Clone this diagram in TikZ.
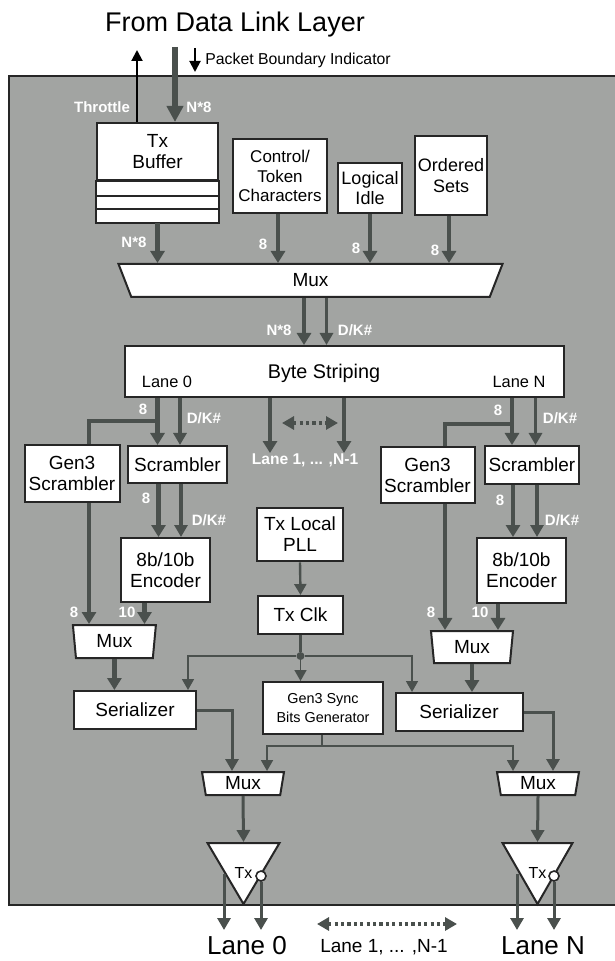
\documentclass[tikz,border=0pt]{standalone}
\usepackage{fontspec}
\setmainfont{Liberation Sans}
\usepackage{xcolor}
\usepackage{tikz}
\usetikzlibrary{arrows.meta,shapes.geometric}

\definecolor{panelgray}{HTML}{A2A4A2}
\definecolor{wirec}{HTML}{4A504D}
\definecolor{edgec}{HTML}{262626}

\tikzset{
  blk/.style={draw=edgec, line width=1pt, fill=white, inner sep=1pt, align=center,
    font=\fontsize{9.5}{10.5}\selectfont},
  muxbox/.style={trapezium, shape border rotate=180, trapezium stretches body,
    draw=edgec, line width=1pt, fill=white, inner sep=0pt,
    font=\fontsize{9.5}{10.5}\selectfont},
  txbox/.style={isosceles triangle, shape border rotate=-90, isosceles triangle stretches,
    draw=edgec, line width=1pt, fill=white, inner sep=0pt, anchor=north,
    font=\fontsize{8}{9}\selectfont},
  bubble/.style={circle, draw=edgec, fill=white, line width=0.8pt, minimum size=5pt, inner sep=0pt},
  bus/.style={draw=wirec, line width=2.2pt, -{Triangle[width=7pt,length=6pt]}},
  dk/.style={draw=wirec, line width=1.6pt, -{Triangle[width=6.5pt,length=6pt]}},
  midw/.style={draw=wirec, line width=1.5pt, -{Triangle[width=6.5pt,length=6pt]}},
  clkw/.style={draw=wirec, line width=0.8pt, -{Triangle[width=6pt,length=5.5pt]}},
  blkarr/.style={draw=black, line width=1pt, -{Triangle[width=5.5pt,length=5.5pt]}},
  dotarr/.style={draw=wirec, line width=1.6pt, dash pattern=on 1.6pt off 1.6pt,
    {Triangle[width=6.5pt,length=6pt]}-{Triangle[width=6.5pt,length=6pt]}},
  wlbl/.style={text=white, inner sep=0pt, font=\fontsize{7.5}{8}\selectfont\bfseries},
  dlbl/.style={inner sep=0pt, font=\fontsize{8.2}{9}\selectfont},
}

\begin{document}
\begin{tikzpicture}[x=0.5pt,y=-0.5pt]
    \useasboundingbox (0,0) rectangle (614,961);
    % PHY transmit panel
    \filldraw[fill=panelgray, draw=edgec, line width=1pt] (9,76) rectangle (640,905);
    % Header above the panel
    \node[font=\fontsize{13.5}{15}\selectfont] (title) at (235,25) {From Data Link Layer};
    \node[anchor=west, inner sep=0pt, font=\fontsize{7.9}{9}\selectfont] (pbi) at (205,60) {Packet Boundary Indicator};
    \coordinate (thrend) at (137,50);
    \coordinate (dllin) at (175,47);
    \coordinate (pbitop) at (195,48);
    \coordinate (pbibot) at (195,72);
    % Transmit buffer with its stripes
    \node[blk, minimum width=60.5pt, minimum height=28.5pt] (buf) at (157.5,151.5) {Tx\\Buffer};
    \draw[draw=edgec, line width=1pt, fill=white] (buf.south west) rectangle ([yshift=-21pt]buf.south east);
    \draw[edgec, line width=1pt] ([yshift=-7.5pt]buf.south west) -- ([yshift=-7.5pt]buf.south east);
    \draw[edgec, line width=1pt] ([yshift=-14pt]buf.south west) -- ([yshift=-14pt]buf.south east);
    \coordinate (bufout) at ([yshift=-21pt]buf.south);
    % Symbol sources
    \node[blk, minimum width=47pt, minimum height=37pt, font=\fontsize{8.5}{9.8}\selectfont] (ctl) at (280,176) {Control/\\Token\\Characters};
    \node[blk, minimum width=32pt, minimum height=25pt, font=\fontsize{9}{10}\selectfont] (idle) at (370,188) {Logical\\Idle};
    \node[blk, minimum width=36pt, minimum height=39.5pt, font=\fontsize{9}{10.5}\selectfont] (ord) at (451,175.5) {Ordered\\Sets};
    \node[muxbox, minimum width=192pt, minimum height=16.5pt, trapezium left angle=46, trapezium right angle=46] (mux) at (310.5,280.5) {Mux};
    % Byte striping
    \node[blk, minimum width=219.5pt, minimum height=25.5pt] (bs) at (344,371.5) {};
    \node[inner sep=0pt, font=\fontsize{9.9}{11}\selectfont] (bslab) at (324,373) {Byte Striping};
    \node[dlbl] (bsl0) at (167,382) {Lane 0};
    \node[dlbl] (bsln) at (519,382) {Lane N};
    % Lane 0
    \node[blk, minimum width=47.5pt, minimum height=28.5pt] (gs0) at (72,473.5) {Gen3\\Scrambler};
    \node[blk, minimum width=49.5pt, minimum height=18.5pt] (sc0) at (177.4,464.5) {Scrambler};
    \node[blk, minimum width=44.5pt, minimum height=32pt] (enc0) at (165.5,570) {8b/10b\\Encoder};
    \node[muxbox, minimum width=41.5pt, minimum height=16.5pt, trapezium left angle=77, trapezium right angle=77] (mx0) at (114.4,641.5) {Mux};
    \node[blk, minimum width=61pt, minimum height=19pt] (ser0) at (135,710) {Serializer};
    \node[muxbox, minimum width=41pt, minimum height=11.5pt, trapezium left angle=74, trapezium right angle=74] (omx0) at (243,783.5) {Mux};
    \node[txbox, minimum width=36pt, minimum height=30.5pt] (tx0) at (243.5,842) {\raisebox{-10pt}[0pt][0pt]{Tx}};
    \node[bubble] (bub0) at (261,876) {};
    % Lane N
    \node[blk, minimum width=47pt, minimum height=28pt] (gs1) at (427.5,475) {Gen3\\Scrambler};
    \node[blk, minimum width=47pt, minimum height=19pt] (sc1) at (532,465) {Scrambler};
    \node[blk, minimum width=44.5pt, minimum height=32.5pt] (enc1) at (521.5,570.5) {8b/10b\\Encoder};
    \node[muxbox, minimum width=41pt, minimum height=16pt, trapezium left angle=77, trapezium right angle=77] (mx1) at (472,647) {Mux};
    \node[blk, minimum width=63.5pt, minimum height=19pt] (ser1) at (459,712) {Serializer};
    \node[muxbox, minimum width=41pt, minimum height=11.5pt, trapezium left angle=74, trapezium right angle=74] (omx1) at (538,783.5) {Mux};
    \node[txbox, minimum width=35pt, minimum height=30.5pt] (tx1) at (537.5,842) {\raisebox{-10pt}[0pt][0pt]{Tx}};
    \node[bubble] (bub1) at (554,876) {};
    % Clocking
    \node[blk, minimum width=43pt, minimum height=26.5pt, line width=1.4pt] (pll) at (300,534.5) {Tx Local\\PLL};
    \node[blk, minimum width=42.5pt, minimum height=19pt] (clk) at (300.5,615) {Tx Clk};
    \node[blk, minimum width=60pt, minimum height=26pt, font=\fontsize{7.2}{9.5}\selectfont] (sync) at (323,708) {Gen3 Sync\\Bits Generator};
    \node[circle, fill=wirec, inner sep=0pt, minimum size=4pt] (split) at (300.5,656) {};
    \coordinate (syncj) at (322,746);
    % White signal labels
    \node[wlbl] (wthr) at (102,107) {Throttle};
    \node[wlbl] (win) at (199,107) {N*8};
    \node[wlbl] (wbuf) at (134,242) {N*8};
    \node[wlbl] (wctl) at (263,244) {8};
    \node[wlbl] (widle) at (356,248) {8};
    \node[wlbl] (word) at (435,250) {8};
    \node[wlbl] (wmux) at (279,330) {N*8};
    \node[wlbl] (wmuxk) at (355,330) {D/K\#};
    \node[wlbl] (wl0) at (143,409) {8};
    \node[wlbl] (wl0k) at (204,418) {D/K\#};
    \node[wlbl] (wln) at (498,410) {8};
    \node[wlbl] (wlnk) at (560,418) {D/K\#};
    \node[wlbl] (wsc0) at (146,498) {8};
    \node[wlbl] (wsc0k) at (209,520) {D/K\#};
    \node[wlbl] (wsc1) at (500,500) {8};
    \node[wlbl] (wsc1k) at (562,520) {D/K\#};
    \node[wlbl] (wg0) at (74,612) {8};
    \node[wlbl] (we0) at (127,612) {10};
    \node[wlbl] (wg1) at (431,612) {8};
    \node[wlbl] (we1) at (480,612) {10};
    \node[wlbl, font=\fontsize{7.8}{8}\selectfont\bfseries] (midlab) at (305,460) {Lane 1, ... ,N-1};
    % Lane names below the panel
    \node[inner sep=0pt, font=\fontsize{13}{15}\selectfont] (lane0) at (247,946) {Lane 0};
    \node[inner sep=0pt, font=\fontsize{9.5}{11}\selectfont] (lanemid) at (384,947) {Lane 1, ... ,N-1};
    \node[inner sep=0pt, font=\fontsize{13}{15}\selectfont] (lanen) at (543,946) {Lane N};
    \coordinate (o0a) at (224,874);
    \coordinate (o1a) at (517,874);
    \coordinate (e0a) at (224,930);
    \coordinate (e0b) at (261,930);
    \coordinate (e1a) at (517,930);
    \coordinate (e1b) at (554,930);
    \coordinate (dotl) at (317,924);
    \coordinate (dotr) at (457,924);
    \coordinate (dotml) at (282,423);
    \coordinate (dotmr) at (338,423);
    % Connectors
    \draw[blkarr] (buf.north -| thrend) -- (thrend);
    \draw[bus, line width=2.6pt, -{Triangle[width=8pt,length=8pt]}] (dllin) -- (buf.north -| dllin);
    \draw[blkarr] (pbitop) -- (pbibot);
    \draw[bus] (bufout -| 157.5,0) -- (mux.north -| 157.5,0);
    \draw[bus] (ctl.south -| 278,0) -- (mux.north -| 278,0);
    \draw[bus] (idle.south -| 370,0) -- (mux.north -| 370,0);
    \draw[bus] (ord.south -| 449,0) -- (mux.north -| 449,0);
    \draw[bus] (mux.south -| 304,0) -- (bs.north -| 304,0);
    \draw[dk] (mux.south -| 326.5,0) -- (bs.north -| 326.5,0);
    % lane 0 path
    \draw[bus] (bs.south -| 157.5,0) -- (sc0.north -| 157.5,0);
    \draw[dk] (bs.south -| 180,0) -- (sc0.north -| 180,0);
    \draw[bus, -] (bs.south -| 157.5,0) ++(0,23) -| (gs0.north -| 89,0);
    \draw[bus] (sc0.south -| 158.5,0) -- (enc0.north -| 158.5,0);
    \draw[dk] (sc0.south -| 181,0) -- (enc0.north -| 181,0);
    \draw[bus] (gs0.south -| 89,0) -- (mx0.north -| 89,0);
    \draw[bus] (enc0.south -| 144.5,0) -- (mx0.north -| 144.5,0);
    \draw[bus] (mx0.south) -- (ser0.north -| mx0.south);
    \draw[midw] (ser0.east) -| (omx0.north -| 232,0);
    \draw[midw] (omx0.south) -- (tx0.north);
    \draw[midw] (o0a) -- (e0a);
    \draw[midw] (bub0.south) -- (e0b);
    % other lanes
    \draw[bus] (bs.south -| 270,0) -- (midlab.north -| 270,0);
    \draw[bus] (bs.south -| 344,0) -- (midlab.north -| 344,0);
    \draw[dotarr] (dotml) -- (dotmr);
    \draw[dotarr] (dotl) -- (dotr);
    % lane N path
    \draw[bus] (bs.south -| 512,0) -- (sc1.north -| 512,0);
    \draw[dk] (bs.south -| 535.5,0) -- (sc1.north -| 535.5,0);
    \draw[bus, -] (bs.south -| 512,0) ++(0,26) -| (gs1.north -| 445,0);
    \draw[bus] (sc1.south -| 513,0) -- (enc1.north -| 513,0);
    \draw[dk] (sc1.south -| 537,0) -- (enc1.north -| 537,0);
    \draw[bus] (gs1.south -| 445,0) -- (mx1.north -| 445,0);
    \draw[bus] (enc1.south -| 498,0) -- (mx1.north -| 498,0);
    \draw[bus] (mx1.south) -- (ser1.north -| mx1.south);
    \draw[midw] (ser1.east) -| (omx1.north -| 553,0);
    \draw[midw] (omx1.south) -- (tx1.north);
    \draw[midw] (o1a) -- (e1a);
    \draw[midw] (bub1.south) -- (e1b);
    % clock tree and sync bits
    \draw[clkw, line width=1.2pt] (pll.south) -- (clk.north);
    \draw[wirec, line width=1.2pt] (clk.south) -- (split);
    \draw[clkw] (split) -- (sync.north -| split);
    \draw[clkw] (split) -| (ser0.north -| 188,0);
    \draw[clkw] (split) -| (ser1.north -| 412,0);
    \draw[wirec, line width=0.9pt] (sync.south -| syncj) -- (syncj);
    \draw[clkw, line width=0.9pt] (syncj) -| (omx0.north -| 267,0);
    \draw[clkw, line width=0.9pt] (syncj) -| (omx1.north -| 513,0);
\end{tikzpicture}
\end{document}
